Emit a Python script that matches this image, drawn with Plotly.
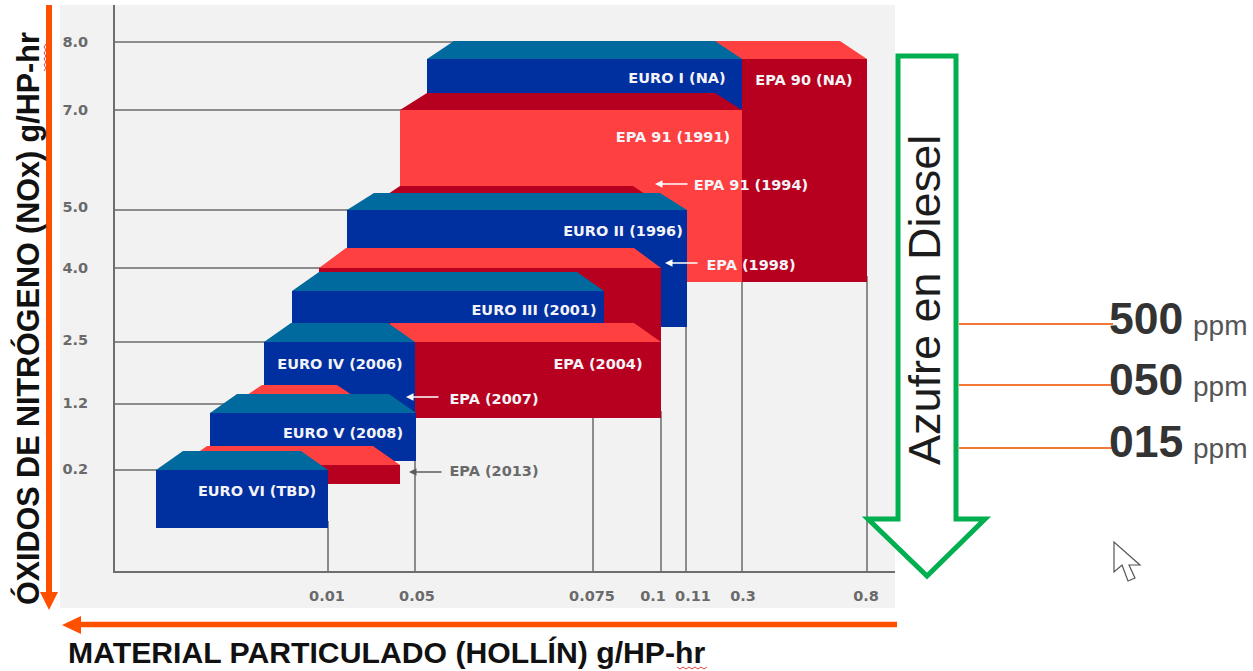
import plotly.graph_objects as go

# Plot frame inside the 1253x671 page
WIDTH, HEIGHT = 1253, 671
LEFT, RIGHT, TOP, BOTTOM = 115, 358, 5, 100
PLOT_W = WIDTH - LEFT - RIGHT
PLOT_H = HEIGHT - TOP - BOTTOM

# Axes are ordinal: ticks sit at hand-spaced scale positions, not proportional to their values
X_TICK_LABELS = ["0.01", "0.05", "0.075", "0.1", "0.11", "0.3", "0.8"]
X_LABEL_POS = [212, 302, 477, 538, 578, 628, 751]
X_GRID_POS = [213, 300, 478, 546, 571, 627, 752]
X_GRID_TOP = [50, 110, 160, 160, 250, 295, 295]

Y_TICK_LABELS = ["8.0", "7.0", "5.0", "4.0", "2.5", "1.2", "0.2"]
Y_LABEL_POS = [529, 461, 364, 303, 231, 168, 102]
Y_GRID_POS = [529, 461, 361, 303, 229, 167, 101]
Y_GRID_END = [345, 290, 240, 210, 155, 120, 45]

# Emission standards, drawn back to front
STANDARDS = ["EPA 90", "EURO I", "EPA 91 (1991)", "EPA 91 (1994)", "EURO II", "EPA 1998",
             "EURO III", "EPA 2004", "EURO IV", "EPA 2007", "EURO V", "EPA 2013", "EURO VI"]
BOX_LEFT = [385, 312, 285, 258, 232, 204, 177, 249, 149, 120, 95, 65, 41]
BOX_RIGHT = [752, 627, 627, 545, 572, 546, 489, 546, 300, 249, 301, 285, 213]
BOX_BACK = [530, 530, 478, 385, 378, 323, 299, 248, 248, 186, 177, 125, 120]
BOX_FRONT = [512, 512, 461, 367, 361, 303, 280, 229, 229, 168, 158, 106, 101]
BOX_BOTTOM = [289, 461, 289, 271, 244, 229, 248, 153, 156, 131, 110, 87, 43]
BOX_FAMILY = ["epa_dark", "euro", "epa_light", "epa_light", "euro", "epa_dark",
              "euro", "epa_dark", "euro", "epa_dark", "euro", "epa_dark", "euro"]
BEVEL = 27

# Front colour and top-face colour for each box family
PALETTE = {
    "euro": ("#002f9f", "#006a9e"),
    "epa_dark": ("#b7001f", "#ff4040"),
    "epa_light": ("#ff4040", "#b7001f"),
}

BOX_TEXT = ["EURO I (NA)", "EPA 90 (NA)", "EPA 91 (1991)", "EPA 91 (1994)", "EURO II (1996)",
            "EPA (1998)", "EURO III (2001)", "EPA (2004)", "EURO IV (2006)", "EPA (2007)",
            "EURO V (2008)", "EURO VI (TBD)"]
BOX_TEXT_X = [562, 689, 558, 636, 508, 636, 419, 483, 225, 379, 228, 142]
BOX_TEXT_Y = [492, 490, 433, 385, 339, 305, 260, 206, 206, 171, 137, 79]

# Callout arrows: head x, tail x, y, colour
CALLOUT_HEAD_X = [540, 550, 291, 294]
CALLOUT_TAIL_X = [574, 584, 325, 328]
CALLOUT_Y = [387, 308, 174, 99]
CALLOUT_COLOR = ["#ffffff", "#ffffff", "#ffffff", "#5c5c5c"]

SULFUR_LEVELS = ["500", "050", "015"]
SULFUR_LINE_Y = [324, 385, 448]
SULFUR_NUM_Y = [319, 379, 441]
SULFUR_PPM_Y = [325, 386, 448]

LABEL_FONT = "DejaVu Sans"
SANS = "Liberation Sans"
ORANGE = "#ff4f00"
GREEN = "#00b050"


def fx(px):
    """Page pixel column to plot-area paper fraction."""
    return (px - LEFT) / PLOT_W


def fy(py):
    """Page pixel row to plot-area paper fraction."""
    return (HEIGHT - BOTTOM - py) / PLOT_H


def page_path(points, close=True):
    parts = [f"{'M' if i == 0 else 'L'}{fx(x):.5f},{fy(y):.5f}" for i, (x, y) in enumerate(points)]
    return " ".join(parts) + (" Z" if close else "")


fig = go.Figure()

# Gridlines stop where they run under the boxes
for pos, top in zip(X_GRID_POS, X_GRID_TOP):
    fig.add_trace(go.Scatter(x=[pos, pos], y=[0, top], mode="lines",
                             line=dict(color="#8c8c8c", width=2), hoverinfo="skip"))
for pos, end in zip(Y_GRID_POS, Y_GRID_END):
    fig.add_trace(go.Scatter(x=[0, end], y=[pos, pos], mode="lines",
                             line=dict(color="#8c8c8c", width=2), hoverinfo="skip"))

# Bevelled boxes: a front rectangle and a top face
for name, x0, x1, back, front, bottom, family in zip(
        STANDARDS, BOX_LEFT, BOX_RIGHT, BOX_BACK, BOX_FRONT, BOX_BOTTOM, BOX_FAMILY):
    face, top_face = PALETTE[family]
    fig.add_trace(go.Scatter(x=[x0, x1, x1, x0, x0], y=[front, front, bottom, bottom, front],
                             mode="lines", fill="toself", fillcolor=face,
                             line=dict(width=0, color=face), name=name, hoverinfo="skip"))
    fig.add_trace(go.Scatter(x=[x0, x0 + BEVEL, x1 - BEVEL, x1, x0], y=[front, back, back, front, front],
                             mode="lines", fill="toself", fillcolor=top_face,
                             line=dict(width=0, color=top_face), name=name, hoverinfo="skip"))

fig.add_trace(go.Scatter(x=BOX_TEXT_X, y=BOX_TEXT_Y, text=BOX_TEXT, mode="text",
                         textposition="middle center", hoverinfo="skip",
                         textfont=dict(family=LABEL_FONT, size=14.5, color="#f4f4f8", weight=700)))
fig.add_trace(go.Scatter(x=[379], y=[99], text=["EPA (2013)"], mode="text",
                         textposition="middle center", hoverinfo="skip",
                         textfont=dict(family=LABEL_FONT, size=14.5, color="#6a6a6a", weight=700)))

annotations = []
for head, tail, y, color in zip(CALLOUT_HEAD_X, CALLOUT_TAIL_X, CALLOUT_Y, CALLOUT_COLOR):
    annotations.append(dict(x=head, y=y, ax=tail, ay=y, xref="x", yref="y", axref="x", ayref="y",
                            text="", showarrow=True, arrowhead=2, arrowsize=1, arrowwidth=1.5,
                            arrowcolor=color))


def page_text(text, px, py, size, color, family=SANS, weight=400, angle=0):
    annotations.append(dict(x=fx(px), y=fy(py), xref="paper", yref="paper", text=text,
                            showarrow=False, xanchor="center", yanchor="middle", textangle=angle,
                            font=dict(family=family, size=size, color=color, weight=weight)))


page_text("ÓXIDOS DE NITRÓGENO (NOx) g/HP-hr", 28, 319, 30.5, "#111111", weight=700, angle=-90)
page_text("MATERIAL PARTICULADO (HOLLÍN) g/HP-hr", 386, 652.5, 30.2, "#111111", weight=700)
page_text("Azufre en Diesel", 925, 300, 45, "#1c1c1c", angle=-90)
for level, num_y, ppm_y in zip(SULFUR_LEVELS, SULFUR_NUM_Y, SULFUR_PPM_Y):
    page_text(level, 1146, num_y, 44.5, "#333333", weight=700)
    page_text("ppm", 1220, ppm_y, 28, "#555555")

shapes = [
    # Grey chart panel
    dict(type="rect", xref="paper", yref="paper", x0=fx(60), x1=fx(895), y0=fy(608), y1=fy(5),
         fillcolor="#f2f2f2", line=dict(width=0), layer="below"),
    # Orange axis arrows
    dict(type="path", xref="paper", yref="paper", path=page_path([(49, 5), (49, 596)], close=False),
         line=dict(color=ORANGE, width=6)),
    dict(type="path", xref="paper", yref="paper", path=page_path([(40, 592), (58, 592), (49, 610)]),
         fillcolor=ORANGE, line=dict(width=0)),
    dict(type="path", xref="paper", yref="paper", path=page_path([(897, 624.5), (76, 624.5)], close=False),
         line=dict(color=ORANGE, width=5.5)),
    dict(type="path", xref="paper", yref="paper", path=page_path([(81, 616), (81, 634), (62, 625)]),
         fillcolor=ORANGE, line=dict(width=0)),
    # Green sulfur arrow
    dict(type="path", xref="paper", yref="paper",
         path=page_path([(898, 56), (956, 56), (956, 519), (985, 519), (927, 576), (868, 519), (898, 519)]),
         fillcolor="#ffffff", line=dict(color=GREEN, width=5)),
    # Pointer glyph
    dict(type="path", xref="paper", yref="paper",
         path=page_path([(1114, 542), (1114, 572), (1122, 565), (1128, 581), (1135, 578), (1129, 565), (1140, 565)]),
         fillcolor="#ffffff", line=dict(color="#555555", width=1.2)),
]

for y in SULFUR_LINE_Y:
    shapes.append(dict(type="line", xref="paper", yref="paper", x0=fx(959), x1=fx(1113),
                       y0=fy(y), y1=fy(y), line=dict(color="#f4773a", width=2)))

# Wavy proofing underlines beneath the two "hr" units
wave_h = [(677 + 3 * i, 667 + (i % 2) * 2) for i in range(11)]
wave_v = [(44 + (i % 2) * 2, 71 - 3 * i) for i in range(10)]
for wave in (wave_h, wave_v):
    shapes.append(dict(type="path", xref="paper", yref="paper", path=page_path(wave, close=False),
                       line=dict(color="#e04040", width=1)))

tick_font = dict(family=LABEL_FONT, size=14.5, color="#6a6a6a", weight=700)

fig.update_layout(
    width=WIDTH, height=HEIGHT, autosize=False,
    margin=dict(l=LEFT, r=RIGHT, t=TOP, b=BOTTOM, pad=0),
    paper_bgcolor="#ffffff", plot_bgcolor="rgba(0,0,0,0)",
    showlegend=False, shapes=shapes, annotations=annotations,
    xaxis=dict(range=[0, PLOT_W], tickmode="array", tickvals=X_LABEL_POS, ticktext=X_TICK_LABELS,
               showgrid=False, zeroline=False, showline=True, linecolor="#6e6e6e", linewidth=2,
               ticks="outside", ticklen=11, tickcolor="rgba(0,0,0,0)", tickfont=tick_font),
    yaxis=dict(range=[0, PLOT_H], tickmode="array", tickvals=Y_LABEL_POS, ticktext=Y_TICK_LABELS,
               showgrid=False, zeroline=False, showline=True, linecolor="#6e6e6e", linewidth=2,
               ticks="outside", ticklen=22, tickcolor="rgba(0,0,0,0)", tickfont=tick_font),
)

fig.write_html("out.html", config=dict(displayModeBar=False))
